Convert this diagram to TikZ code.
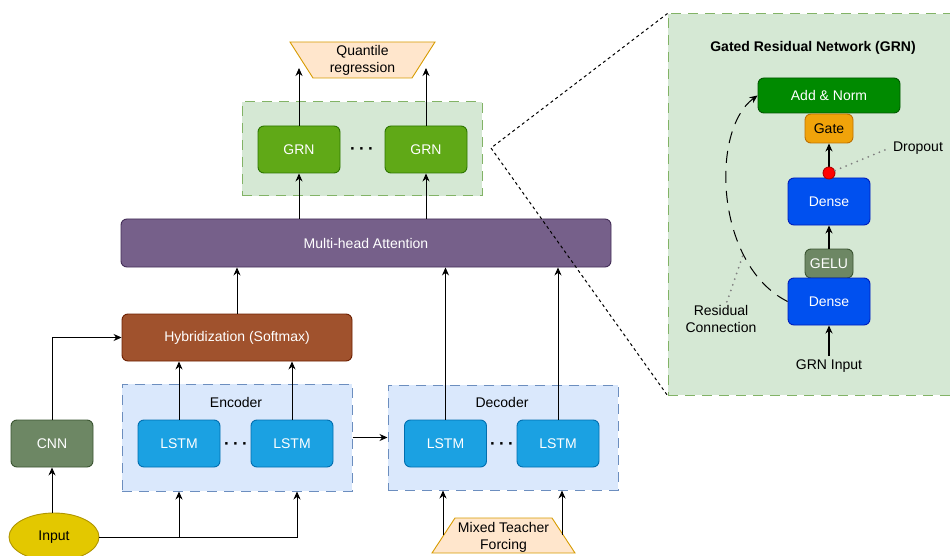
\documentclass[tikz,border=0pt]{standalone}
\usepackage{fontspec}
\setmainfont{Liberation Sans}
\usepackage{tikz}
\usetikzlibrary{shapes,arrows.meta,positioning,calc}
\usepackage{xcolor}

\definecolor{qrfill}{HTML}{FFE6CC}
\definecolor{qrline}{HTML}{D79B00}
\definecolor{grpgreen}{HTML}{D5E8D4}
\definecolor{grpgreenline}{HTML}{82B366}
\definecolor{grpblue}{HTML}{DAE8FC}
\definecolor{grpblueline}{HTML}{6C8EBF}
\definecolor{grnfill}{HTML}{60A917}
\definecolor{grnline}{HTML}{2D7600}
\definecolor{mhafill}{HTML}{76608A}
\definecolor{mhaline}{HTML}{432D57}
\definecolor{hybfill}{HTML}{A0522D}
\definecolor{hybline}{HTML}{6D1F00}
\definecolor{lstmfill}{HTML}{1BA1E2}
\definecolor{lstmline}{HTML}{006EAF}
\definecolor{cnnfill}{HTML}{6D8764}
\definecolor{cnnline}{HTML}{3A5431}
\definecolor{inputfill}{HTML}{E3C800}
\definecolor{inputline}{HTML}{B09500}
\definecolor{anfill}{HTML}{008A00}
\definecolor{anline}{HTML}{005700}
\definecolor{gatefill}{HTML}{F0A30A}
\definecolor{gateline}{HTML}{BD7000}
\definecolor{densefill}{HTML}{0050EF}
\definecolor{denseline}{HTML}{001DBC}
\definecolor{dotline}{HTML}{B20000}

\newcommand{\skipdots}{\fontsize{17pt}{17pt}\selectfont\bfseries ·\kern3.3pt·\kern3.3pt·}

\begin{document}
\begin{tikzpicture}[x=1pt, y=-1pt, >={Stealth[length=8pt,width=7pt]},
    font=\fontsize{14pt}{17pt}\selectfont,
    block/.style={rectangle, rounded corners=6pt, draw, line width=0.9pt, inner sep=0pt, text=white},
    lstmbox/.style={block, fill=lstmfill, draw=lstmline, minimum width=82pt, minimum height=47pt},
    grnbox/.style={block, fill=grnfill, draw=grnline, minimum width=82pt, minimum height=47pt},
    densebox/.style={block, fill=densefill, draw=denseline, minimum width=82pt, minimum height=47pt},
    smallbox/.style={block, minimum width=48pt, minimum height=29pt},
    groupbox/.style={rectangle, draw, line width=1pt, dash pattern=on 10pt off 7pt, inner sep=0pt},
    link/.style={->, line width=0.9pt},
    flow/.style={->, line width=1.8pt},
    leader/.style={gray, line width=2pt, line cap=round, dash pattern=on 0pt off 6pt},
    trap/.style={fill=qrfill, draw=qrline, line width=0.9pt}]
    \useasboundingbox (0,0) rectangle (950,556);
    \clip (0,0) rectangle (950,556);

    % GRN heads and output
    \node[groupbox, fill=grpgreen, draw=grpgreenline, minimum width=240pt, minimum height=94pt] (grngroup) at (362,149) {};
    \node[grnbox] (grnA) at (299,149.5) {GRN};
    \node[grnbox] (grnB) at (426,149.5) {GRN};
    \node (dotsG) at (362,151) {\skipdots};

    \draw[trap] (290,42) -- (435,42) -- (412,78) -- (313,78) -- cycle;
    \node[align=center] (qr) at (362.5,60) {Quantile\\regression};
    \coordinate (qrL) at (299,68);
    \coordinate (qrR) at (426,68);
    \draw[link] (grnA) -- (qrL);
    \draw[link] (grnB) -- (qrR);

    \node[block, fill=mhafill, draw=mhaline, minimum width=490pt, minimum height=48pt] (mha) at (366,243) {Multi-head Attention};
    \draw[link] (grnA |- mha.north) -- (grnA);
    \draw[link] (grnB |- mha.north) -- (grnB);

    \node[block, fill=hybfill, draw=hybline, minimum width=230pt, minimum height=47pt] (hyb) at (237,337.5) {Hybridization (Softmax)};
    \draw[link] (hyb) -- (hyb |- mha.south);

    % encoder
    \node[groupbox, fill=grpblue, draw=grpblueline, minimum width=230pt, minimum height=107pt] (encgroup) at (237,437.5) {};
    \node (enclabel) at (236,402) {Encoder};
    \node[lstmbox] (lstmE1) at (179,443.5) {LSTM};
    \node[lstmbox] (lstmE2) at (292,443.5) {LSTM};
    \node (dotsE) at (236,446) {\skipdots};
    \draw[link] (lstmE1) -- (lstmE1 |- hyb.south);
    \draw[link] (lstmE2) -- (lstmE2 |- hyb.south);

    % decoder
    \node[groupbox, fill=grpblue, draw=grpblueline, minimum width=230pt, minimum height=105pt] (decgroup) at (503,437.5) {};
    \node (declabel) at (502,402) {Decoder};
    \node[lstmbox] (lstmD1) at (445.5,443.5) {LSTM};
    \node[lstmbox] (lstmD2) at (558,443.5) {LSTM};
    \node (dotsD) at (502,446) {\skipdots};
    \draw[link] (lstmD1) -- (lstmD1 |- mha.south);
    \draw[link] (lstmD2) -- (lstmD2 |- mha.south);
    \draw[link] (encgroup) -- (decgroup);

    % inputs
    \node[block, fill=cnnfill, draw=cnnline, minimum width=82pt, minimum height=47pt] (cnn) at (52,443.5) {CNN};
    \draw[link] (cnn) |- (hyb);
    \node[ellipse, fill=inputfill, draw=inputline, line width=0.9pt, minimum width=90pt, minimum height=48pt, inner sep=0pt] (input) at (54,537) {Input};
    \draw[link] (cnn |- input.north) -- (cnn);
    \draw[link] (input) -| (lstmE1 |- encgroup.south);
    \draw[link] (input) -| ($(lstmE2 |- encgroup.south)+(5,0)$);

    \draw[trap] (455,518) -- (552,518) -- (575,553) -- (432,553) -- cycle;
    \node[align=center] (mtf) at (503.5,537) {Mixed Teacher\\Forcing};
    \coordinate (mtfL) at (443,535);
    \coordinate (mtfR) at (562,535);
    \draw[link] (mtfL) -- (mtfL |- decgroup.south);
    \draw[link] (mtfR) -- (mtfR |- decgroup.south);

    % GRN detail
    \node[groupbox, fill=grpgreen, draw=grpgreenline, minimum width=292pt, minimum height=381pt] (panel) at (814,204.5) {};
    \coordinate (zoompt) at (491,148);
    \draw[line width=1pt, dash pattern=on 3pt off 3pt] (panel.north west) -- (zoompt) -- (panel.south west);

    \node[font=\bfseries\fontsize{14pt}{17pt}\selectfont] (grntitle) at (813,48) {Gated Residual Network (GRN)};
    \node[block, fill=anfill, draw=anline, minimum width=142pt, minimum height=35pt] (addnorm) at (829,95.5) {Add \& Norm};
    \node[smallbox, fill=gatefill, draw=gateline, text=black] (gate) at (829,128.5) {Gate};
    \node[densebox] (denseA) at (829,201.5) {Dense};
    \node[smallbox, fill=cnnfill, draw=cnnline] (gelu) at (829,263.5) {GELU};
    \node[densebox] (denseB) at (829,301.5) {Dense};
    \node (grninput) at (829,366) {GRN Input};

    \draw[flow] (grninput) -- (denseB);
    \draw[flow] (gelu) -- (denseA);
    \draw[flow] (denseA) -- (gate);
    \node[circle, fill=red, draw=dotline, line width=0.9pt, minimum size=12pt, inner sep=0pt] (dropdot) at (829,173) {};
    \node (dropout) at (918,148) {Dropout};
    \draw[leader] (dropdot) -- (dropout.west);

    \draw[->, line width=1pt, dash pattern=on 12pt off 8pt] (denseB.west) .. controls (715,265) and (710,130) .. (addnorm.west) coordinate[pos=0.27] (rescurve);
    \node[align=center] (reslabel) at (721,319) {Residual\\Connection};
    \draw[leader] (reslabel) -- (rescurve);
\end{tikzpicture}
\end{document}
